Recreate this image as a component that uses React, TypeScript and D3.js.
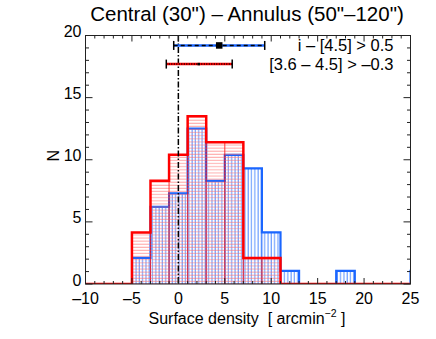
import React, { useEffect, useRef } from 'react';
import * as d3 from 'd3';

// histogram bins (left edge, width 2) and heights
const binLefts = [-5, -3, -1, 1, 3, 5, 7, 9, 11, 13, 15, 17, 19, 21, 23, 25];
const blueCounts = [2.1, 6.2, 7.3, 12.5, 8.3, 10.4, 9.3, 4.15, 1.05, 0, 0, 1.05, 0, 0, 0, 1.05];
const redCounts = [4.15, 8.3, 10.4, 13.5, 11.4, 11.4, 2.1, 2.1, 0, 0, 0, 0, 0, 0, 0, 0];
const binWidth = 2;

// mean +/- spread markers at top
const summaryLabels = ['i \u2013 [4.5] > 0.5', '[3.6 \u2013 4.5] > \u20130.3'];
const summaryMeans = [4.4, 2.2];
const summaryLow = [-0.5, -1.3];
const summaryHigh = [9.3, 5.8];
const summaryY = [19.2, 17.7];

const xTicks = [-10, -5, 0, 5, 10, 15, 20, 25];
const yTicks = [0, 5, 10, 15, 20];

const BLUE = '#1a66ff';
const RED = '#ff0000';
const FONT = 'Liberation Sans, Arial, Helvetica, sans-serif';

const HistChart = () => {
  const ref = useRef<HTMLDivElement>(null);

  useEffect(() => {
    d3.select(ref.current).selectAll('*').remove();

    const W = 436;
    const H = 339;
    const margin = { top: 35.5, right: 25.5, bottom: 55, left: 85.5 };
    const width = W - margin.left - margin.right;
    const height = H - margin.top - margin.bottom;

    const svg = d3
      .select(ref.current)
      .append('svg')
      .attr('width', W)
      .attr('height', H)
      .style('position', 'absolute')
      .style('left', '0px')
      .style('top', '0px')
      .style('font-family', FONT);

    const defs = svg.append('defs');
    defs.append('clipPath').attr('id', 'plotclip')
      .append('rect').attr('width', width).attr('height', height);

    const hatchV = defs.append('pattern').attr('id', 'hatchV')
      .attr('patternUnits', 'userSpaceOnUse').attr('width', 3.3).attr('height', 3);
    hatchV.append('line').attr('x1', 1).attr('x2', 1).attr('y1', 0).attr('y2', 3)
      .attr('stroke', BLUE).attr('stroke-opacity', 0.75).attr('stroke-width', 1);

    const hatchH = defs.append('pattern').attr('id', 'hatchH')
      .attr('patternUnits', 'userSpaceOnUse').attr('width', 3).attr('height', 3.1);
    hatchH.append('line').attr('x1', 0).attr('x2', 3).attr('y1', 1).attr('y2', 1)
      .attr('stroke', '#ff7070').attr('stroke-opacity', 0.6).attr('stroke-width', 1);

    const g = svg.append('g').attr('transform', `translate(${margin.left},${margin.top})`);

    const x = d3.scaleLinear().domain([-10, 25]).range([0, width]);
    const y = d3.scaleLinear().domain([0, 20]).range([height, 0]);

    const plot = g.append('g').attr('clip-path', 'url(#plotclip)');

    const drawHist = (counts: number[], fill: string, color: string) => {
      const bars = binLefts.map((b, i) => ({ b, c: counts[i] })).filter((d) => d.c > 0);
      plot.append('g').selectAll('rect').data(bars).join('rect')
        .attr('x', (d) => x(d.b))
        .attr('width', (d) => x(d.b + binWidth) - x(d.b))
        .attr('y', (d) => y(d.c))
        .attr('height', (d) => y(0) - y(d.c))
        .attr('fill', `url(#${fill})`)
        .attr('stroke', color)
        .attr('stroke-opacity', 0.45)
        .attr('stroke-width', 1);
    };

    const stepLine = d3.line<[number, number]>()
      .x((d) => x(d[0]))
      .y((d) => y(d[1]))
      .curve(d3.curveStepAfter);

    const outline = (counts: number[], start: number, color: string, w: number) => {
      const pts: [number, number][] = [];
      if (start < binLefts[0]) pts.push([start, 0]);
      binLefts.forEach((b, i) => pts.push([b, counts[i]]));
      pts.push([binLefts[binLefts.length - 1] + binWidth, counts[counts.length - 1]]);
      plot.append('path').attr('d', stepLine(pts))
        .attr('fill', 'none').attr('stroke', color).attr('stroke-width', w);
    };

    drawHist(blueCounts, 'hatchV', BLUE);
    outline(blueCounts, binLefts[0], BLUE, 2.2);
    drawHist(redCounts, 'hatchH', RED);
    outline(redCounts, -10, RED, 2.5);

    // zero line
    g.append('line')
      .attr('x1', x(0)).attr('x2', x(0)).attr('y1', 0).attr('y2', height)
      .attr('stroke', '#000').attr('stroke-width', 1.5)
      .attr('stroke-dasharray', '6,2,1.5,2');

    // summary bars
    const colors = [BLUE, RED];
    summaryMeans.forEach((m, i) => {
      const yy = y(summaryY[i]);
      const sg = g.append('g');
      sg.append('line').attr('x1', x(summaryLow[i])).attr('x2', x(summaryHigh[i]))
        .attr('y1', yy).attr('y2', yy).attr('stroke', colors[i]).attr('stroke-width', 2.5);
      sg.append('line').attr('x1', x(summaryLow[i])).attr('x2', x(summaryHigh[i]))
        .attr('y1', yy).attr('y2', yy).attr('stroke', '#000').attr('stroke-width', 1.5)
        .attr('stroke-dasharray', i === 0 ? '4,3' : '1,1.5');
      [summaryLow[i], summaryHigh[i]].forEach((v) => {
        sg.append('line').attr('x1', x(v)).attr('x2', x(v))
          .attr('y1', yy - 4.5).attr('y2', yy + 4.5)
          .attr('stroke', '#000').attr('stroke-width', 1.5);
      });
      const s = i === 0 ? 6.5 : 2.5;
      sg.append('rect').attr('x', x(m) - s / 2).attr('y', yy - s / 2)
        .attr('width', s).attr('height', s).attr('fill', '#000');
      sg.append('text').attr('x', width - 17).attr('y', yy).attr('dy', '0.35em')
        .attr('text-anchor', 'end').attr('font-size', 16.5).attr('fill', '#000')
        .text(summaryLabels[i]);
    });

    // frame & ticks (IDL style, inward on all sides)
    const axisColor = '#222';
    g.append('rect').attr('width', width).attr('height', height)
      .attr('fill', 'none').attr('stroke', axisColor).attr('stroke-width', 1);

    const xMinor = d3.range(-10, 26, 1);
    const yMinor = d3.range(0, 21, 1);
    const ticks = g.append('g').attr('stroke', axisColor).attr('stroke-width', 1);
    xMinor.forEach((v) => {
      const len = v % 5 === 0 ? 6 : 3;
      ticks.append('line').attr('x1', x(v)).attr('x2', x(v)).attr('y1', height).attr('y2', height - len);
      ticks.append('line').attr('x1', x(v)).attr('x2', x(v)).attr('y1', 0).attr('y2', len);
    });
    yMinor.forEach((v) => {
      const len = v % 5 === 0 ? 7 : 3.5;
      ticks.append('line').attr('y1', y(v)).attr('y2', y(v)).attr('x1', 0).attr('x2', len);
      ticks.append('line').attr('y1', y(v)).attr('y2', y(v)).attr('x1', width).attr('x2', width - len);
    });

    g.append('g').selectAll('text').data(xTicks).join('text')
      .attr('x', (d) => x(d)).attr('y', height + 20)
      .attr('text-anchor', 'middle').attr('font-size', 16).attr('fill', '#000')
      .text((d) => (d < 0 ? `\u2013${-d}` : `${d}`));

    g.append('g').selectAll('text').data(yTicks).join('text')
      .attr('x', -4).attr('y', (d) => y(d) - 4).attr('dy', '0.35em')
      .attr('text-anchor', 'end').attr('font-size', 16).attr('fill', '#000')
      .text((d) => `${d}`);

    g.append('text')
      .attr('transform', `translate(${-27},${height / 2 - 4}) rotate(-90)`)
      .attr('text-anchor', 'middle').attr('font-size', 16).attr('fill', '#000')
      .text('N');

    const xl = g.append('text')
      .attr('x', width / 2 - 1).attr('y', height + 39.5)
      .attr('text-anchor', 'middle').attr('font-size', 16).attr('fill', '#000');
    xl.append('tspan').text('Surface density\u00a0\u00a0[ arcmin');
    xl.append('tspan').attr('font-size', 10.5).attr('dy', -7).text('\u22122');
    xl.append('tspan').attr('dy', 7).text(' ]');

    svg.append('text')
      .attr('x', 247).attr('y', 21)
      .attr('text-anchor', 'middle').attr('font-size', 20.5).attr('fill', '#000')
      .text('Central (30") \u2013 Annulus (50"\u2013120")');
  }, []);

  return <div ref={ref}></div>;
};

export default function App() {
  return <HistChart />;
}
